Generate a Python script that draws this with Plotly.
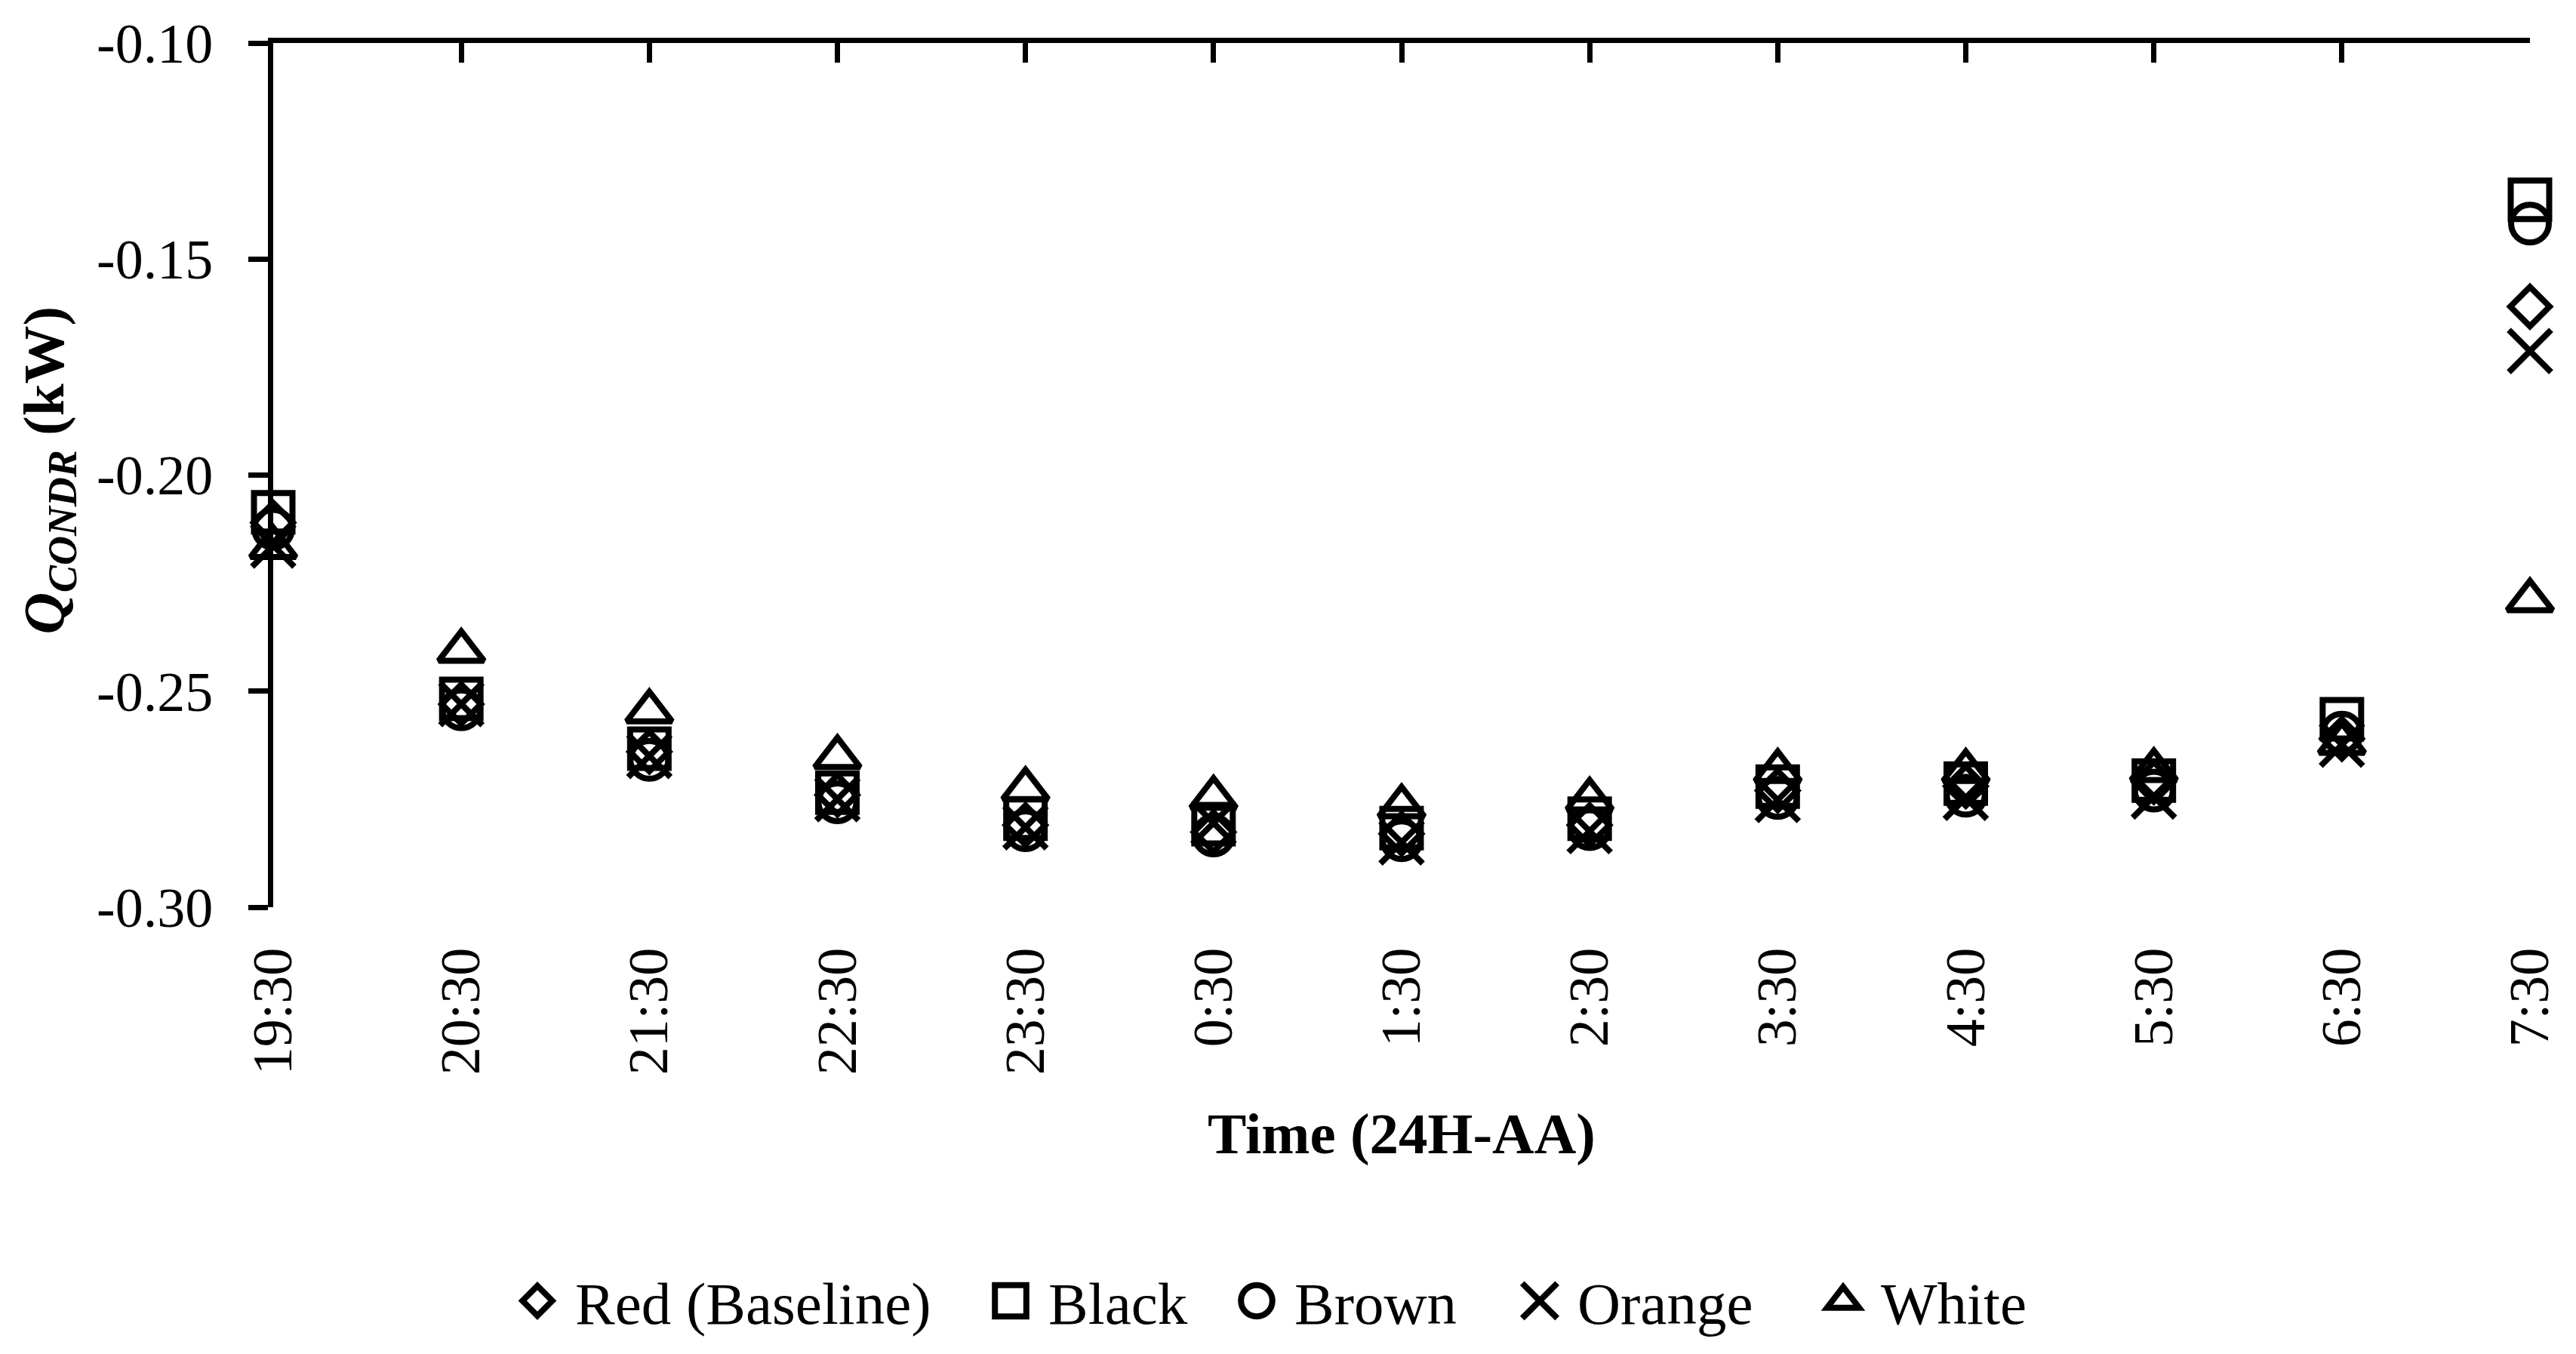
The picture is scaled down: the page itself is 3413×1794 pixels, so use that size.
import plotly.graph_objects as go

times = ["19:30", "20:30", "21:30", "22:30", "23:30", "0:30", "1:30",
         "2:30", "3:30", "4:30", "5:30", "6:30", "7:30"]

red_baseline = [-0.211, -0.253, -0.264, -0.274, -0.281, -0.2826, -0.283,
                -0.281, -0.273, -0.272, -0.271, -0.261, -0.161]
black = [-0.2086, -0.2518, -0.2633, -0.2735, -0.2795, -0.2808, -0.2817,
         -0.2795, -0.2721, -0.2714, -0.2707, -0.2565, -0.1363]
brown = [-0.2124, -0.2542, -0.2659, -0.2757, -0.2822, -0.2834, -0.2845,
         -0.2819, -0.2747, -0.2742, -0.2730, -0.2596, -0.1418]
orange = [-0.2163, -0.2530, -0.2650, -0.2750, -0.2815, -0.2805, -0.2850,
          -0.2824, -0.2752, -0.2747, -0.2744, -0.2624, -0.1713]
white = [-0.2167, -0.2407, -0.2547, -0.2653, -0.2727, -0.2747, -0.2767,
         -0.2751, -0.2685, -0.2685, -0.2683, -0.2620, -0.2290]

series_names = ["Red (Baseline)", "Black", "Brown", "Orange", "White"]
series_values = [red_baseline, black, brown, orange, white]

y_tickvals = [-0.30, -0.25, -0.20, -0.15, -0.10]
y_ticktext = ["-0.30", "-0.25", "-0.20", "-0.15", "-0.10"]

FONT = "Liberation Serif"
FS_TICK = 74
FS_TITLE = 77
FS_LEG = 79
W, H = 3413, 1794
L, R, T, B = 362, 61, 57, 589
PW, PH = W - L - R, H - T - B


def px_x(px):
    return (px - L) / PW


def px_y(py):
    return (H - B - py) / PH


symbols = ["diamond-open", "square-open", "circle-open", "x-thin-open", "triangle-up-open"]
sizes = [40, 51, 50, 56, 52]
legend_ids = ["legend", "legend2", "legend3", "legend4", "legend5"]
legend_symbol_centers = [712, 1339, 1665, 2040, 2442]

fig = go.Figure()
for name, vals, sym, sz, lg in zip(series_names, series_values, symbols, sizes, legend_ids):
    fig.add_trace(go.Scatter(
        x=times, y=vals, name=name, mode="markers",
        marker=dict(symbol=sym, size=sz, color="black", line=dict(width=8, color="black")),
        cliponaxis=False, legend=lg,
    ))

# empty helper trace so that the top axis (line + inward ticks) is drawn
fig.add_trace(go.Scatter(x=[None], y=[None], xaxis="x2", yaxis="y",
                         showlegend=False, hoverinfo="skip", mode="markers"))

layout = dict(
    width=W, height=H,
    margin=dict(l=L, r=R, t=T, b=B, pad=0),
    paper_bgcolor="white", plot_bgcolor="white",
    font=dict(family=FONT, size=FS_TICK, color="black"),
    xaxis=dict(
        type="category", range=[0, len(times) - 1], automargin=False,
        showline=False, showgrid=False, zeroline=False,
        ticks="", tickangle=-90, ticklabelstandoff=38,
        tickfont=dict(family=FONT, size=FS_TICK, color="black"),
    ),
    xaxis2=dict(
        type="linear", overlaying="x", side="top", anchor="y", automargin=False,
        range=[0, len(times) - 1], tickvals=list(range(len(times))),
        showticklabels=False, showgrid=False, zeroline=False,
        showline=True, linecolor="black", linewidth=7,
        ticks="inside", ticklen=26, tickwidth=7, tickcolor="black",
    ),
    yaxis=dict(
        range=[-0.30, -0.10], tickvals=y_tickvals, ticktext=y_ticktext, automargin=False,
        showline=True, linecolor="black", linewidth=7,
        ticks="outside", ticklen=26, tickwidth=7, tickcolor="black",
        showgrid=False, zeroline=False, ticklabelstandoff=32,
        tickfont=dict(family=FONT, size=FS_TICK, color="black"),
    ),
    annotations=[
        dict(text="<b>Time (24H-AA)</b>", xref="paper", yref="paper",
             x=0.5, y=px_y(1506), xanchor="center", yanchor="middle",
             showarrow=False, font=dict(family=FONT, size=FS_TITLE, color="black")),
        dict(text="<b><i>Q</i><sub><i>CONDR</i></sub> (kW)</b>", xref="paper", yref="paper",
             x=px_x(64), y=px_y(625), xanchor="center", yanchor="middle", textangle=-90,
             showarrow=False, font=dict(family=FONT, size=FS_TITLE, color="black")),
    ],
    showlegend=True,
)

for lg, cx in zip(legend_ids, legend_symbol_centers):
    layout[lg] = dict(
        orientation="h", x=px_x(cx - 50), y=px_y(1728), xanchor="left", yanchor="middle",
        xref="paper", yref="paper", itemwidth=90, bgcolor="rgba(0,0,0,0)", borderwidth=0,
        font=dict(family=FONT, size=FS_LEG, color="black"),
    )

fig.update_layout(**layout)

post = """
document.body.style.margin = '0';
document.body.style.padding = '0';
var gd = document.getElementById('{plot_id}');
var scales = [1.9, 2.6, 2.6, 2.9, 2.3];
function fixLegend(){
  var pts = gd.querySelectorAll('.legendpoints path.scatterpts');
  pts.forEach(function(p, i){
    var t = p.getAttribute('transform') || '';
    if (t.indexOf('scale') >= 0) return;
    var k = scales[i] || 2.5;
    p.setAttribute('transform', t + ' scale(' + k + ')');
    p.style.strokeWidth = (8 / k) + 'px';
  });
}
fixLegend();
gd.on('plotly_afterplot', fixLegend);
"""

fig.write_html("out.html", post_script=post, config={"displayModeBar": False})
